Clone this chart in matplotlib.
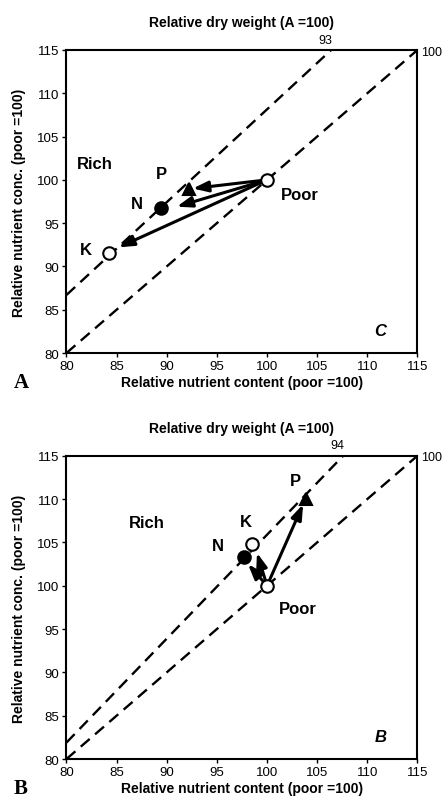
import matplotlib
matplotlib.use("Agg")
import matplotlib.pyplot as plt

plt.rcParams['font.family'] = ['Liberation Sans', 'DejaVu Sans']

# nutrient order: N, P, K
nutrients = ['N', 'P', 'K']
poor_xy = (100, 100)

# panel A (C treatment)
a_content = [89.4, 92.2, 84.2]
a_conc = [96.7, 98.9, 91.6]
a_tip_x = [91.0, 92.6, 85.2]
a_tip_y = [96.9, 99.0, 92.2]
a_iso_x = [80, 106.4]
a_iso_y = [86.7, 115]
a_iso_label = '93'

# panel B (B treatment)
b_content = [97.7, 103.9, 98.5]
b_conc = [103.3, 110.0, 104.8]
b_tip_x = [98.1, 103.6, 99.0]
b_tip_y = [102.5, 109.4, 103.8]
b_iso_x = [80, 107.6]
b_iso_y = [81.9, 115]
b_iso_label = '94'

ref_x = [80, 115]
ref_y = [80, 115]
ticks = [80, 85, 90, 95, 100, 105, 110, 115]

markers = {'N': dict(marker='o', mfc='black'),
           'P': dict(marker='^', mfc='black'),
           'K': dict(marker='o', mfc='white')}


def draw_panel(ax, content, conc, tip_x, tip_y, iso_x, iso_y, iso_label,
               label_pos, rich_pos, poor_pos, corner, letter):
    ax.plot(iso_x, iso_y, ls=(0, (5, 3)), color='black', lw=1.7, zorder=1)
    ax.plot(ref_x, ref_y, ls=(0, (5, 3)), color='black', lw=1.7, zorder=1)

    for i, n in enumerate(nutrients):
        ax.annotate('', xy=(tip_x[i], tip_y[i]), xytext=poor_xy,
                    arrowprops=dict(arrowstyle='-|>,head_length=0.9,head_width=0.32',
                                    color='black', lw=2.2, shrinkA=3, shrinkB=0),
                    zorder=3)
        ax.plot(content[i], conc[i], ls='none', mec='black', mew=1.5,
                ms=9, zorder=4, **markers[n])
        ax.text(label_pos[n][0], label_pos[n][1], n, fontsize=12,
                fontweight='bold', ha='center', va='center')

    ax.plot(*poor_xy, marker='o', mfc='white', mec='black', mew=1.5, ms=9,
            ls='none', zorder=5)

    ax.text(rich_pos[0], rich_pos[1], 'Rich', fontsize=12, fontweight='bold',
            ha='center', va='center')
    ax.text(poor_pos[0], poor_pos[1], 'Poor', fontsize=12, fontweight='bold',
            ha='center', va='center')
    ax.text(111.3, 82.6, corner, fontsize=12, fontweight='bold',
            fontstyle='italic', ha='center', va='center')

    ax.text(iso_x[1] - 0.6, 116.2, iso_label, fontsize=9, ha='center',
            va='center', clip_on=False)
    ax.text(116.4, 114.8, '100', fontsize=9, ha='center', va='center',
            clip_on=False)

    ax.set_xlim(80, 115)
    ax.set_ylim(80, 115)
    ax.set_xticks(ticks)
    ax.set_yticks(ticks)
    ax.tick_params(direction='out', length=3, width=1, labelsize=9.5, pad=2)
    for sp in ax.spines.values():
        sp.set_linewidth(1.5)

    ax.set_xlabel('Relative nutrient content (poor =100)', fontsize=10,
                  fontweight='bold', labelpad=2)
    ax.set_ylabel('Relative nutrient conc. (poor =100)', fontsize=10,
                  fontweight='bold', labelpad=8)
    ax.set_title('Relative dry weight (A =100)', fontsize=10,
                 fontweight='bold', pad=17)
    ax.text(-0.15, -0.095, letter, transform=ax.transAxes, fontsize=15,
            fontweight='bold', family='Liberation Serif', ha='left',
            va='center')


fig = plt.figure(figsize=(4.46, 8.04), dpi=100)
ax_a = fig.add_axes([0.149, 0.5597, 0.787, 0.3769])
ax_b = fig.add_axes([0.149, 0.0547, 0.787, 0.3772])

draw_panel(ax_a, a_content, a_conc, a_tip_x, a_tip_y, a_iso_x, a_iso_y,
           a_iso_label,
           label_pos={'P': (89.5, 100.7), 'N': (87.0, 97.3), 'K': (81.9, 92.0)},
           rich_pos=(82.8, 101.9), poor_pos=(103.3, 98.3),
           corner='C', letter='A')
draw_panel(ax_b, b_content, b_conc, b_tip_x, b_tip_y, b_iso_x, b_iso_y,
           b_iso_label,
           label_pos={'P': (102.8, 112.1), 'N': (95.1, 104.6), 'K': (97.9, 107.4)},
           rich_pos=(88.0, 107.3), poor_pos=(103.1, 97.4),
           corner='B', letter='B')

fig.savefig('out.png', dpi=100)
